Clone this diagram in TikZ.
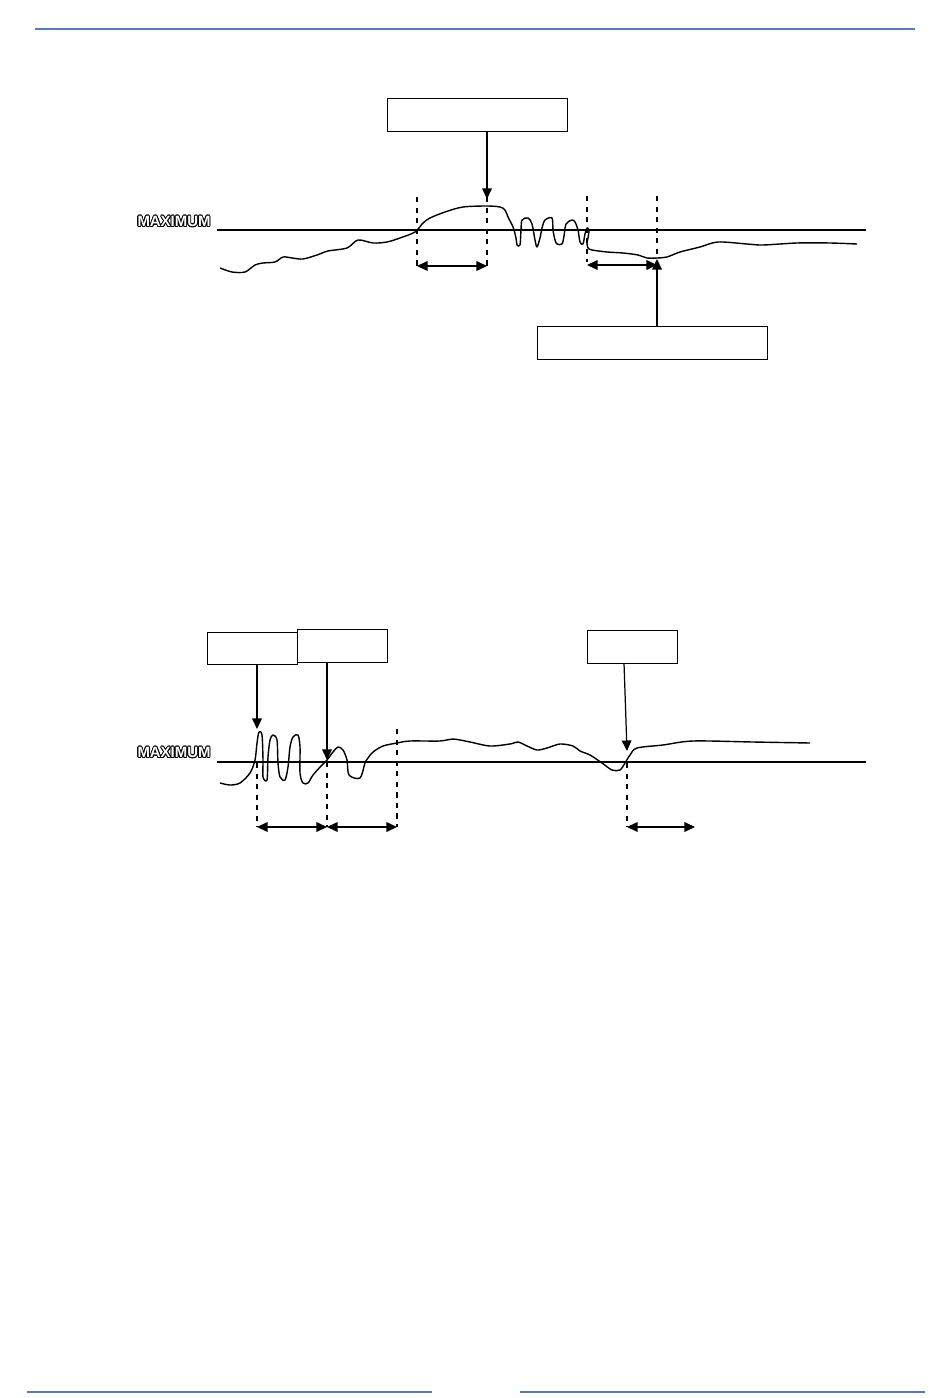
\documentclass[tikz,border=0pt]{standalone}
\usepackage{fontspec}
\usepackage{contour}
\usetikzlibrary{arrows.meta}
\newfontfamily\labelfont{Liberation Sans}
\contourlength{0.5pt}
\definecolor{rulecol}{RGB}{84,125,180}
\newcommand{\maxtext}{{\color{white}\contour{black}{\labelfont\bfseries\fontsize{8.5}{10}\selectfont MAXIMUM}}}

\begin{document}
\begin{tikzpicture}[x=0.02cm,y=-0.02cm]
                \useasboundingbox (0,0) rectangle (950,1398);
                \draw[rulecol,line width=0.8pt] (35,29) -- (915,29);
                \draw[rulecol,line width=0.8pt] (27,1392) -- (432,1392);
                \draw[rulecol,line width=0.8pt] (520,1392) -- (925,1392);

                \node (maxtop) at (174,222) {\maxtext};
                \node (maxbot) at (174,753) {\maxtext};
                \draw[line width=0.6pt] (217,230) -- (866,230);
                \draw[line width=0.6pt] (217,762) -- (866,762);

                \begin{scope}[every node/.style={rectangle,draw,line width=0.5pt,minimum height=0.66cm,inner sep=0pt}]
                    \node[minimum width=3.6cm] (peakbox) at (477,115) {};
                    \node[minimum width=4.6cm] (lowbox) at (652,343) {};
                    \node[minimum width=1.8cm,minimum height=0.64cm] (firstbox) at (252,648) {};
                    \node[minimum width=1.8cm] (secondbox) at (342,646) {};
                    \node[minimum width=1.8cm] (dipbox) at (632,647) {};
                \end{scope}

                \coordinate (p1) at (487,199);
                \coordinate (p2) at (657,259);
                \coordinate (q1) at (257,729);
                \coordinate (q2) at (327,760);
                \coordinate (q3) at (627,751);

                \begin{scope}[line width=0.8pt,line join=round]
                    \draw plot[smooth,tension=0.5] coordinates {(220,268) (232,272) (245,272) (255,265) (263,263) (275,262) (283,257) (292,258) (303,259) (317,255) (328,251) (347,248) (358,240) (373,243) (387,242) (400,238) (415,232) (423,223) (430,218) (445,212) (463,207) (487,206) (500,207) (505,210) (508,217) (513,227) (516,238) (517,245) (520,245) (521,230) (522,220) (528,218) (532,224) (535,240) (537,247) (540,238) (542,228) (545,220) (552,218) (553,230) (555,240) (557,244) (562,244) (564,236) (566,224) (572,220) (575,222) (578,230) (580,242) (583,244) (585,234) (587,228) (589,230) (588,238) (587,243) (588,248) (592,250) (607,252) (623,253) (638,255) (647,258) (657,258) (667,257) (680,252) (700,247) (718,242) (747,244) (763,245) (797,243) (830,243) (857,244)};
                    \draw plot[smooth,tension=0.5] coordinates {(220,783) (230,785) (240,783) (250,773) (255,760) (257,743) (259,732) (262,735) (263,760) (263,777) (267,780) (268,757) (270,740) (273,735) (277,740) (278,763) (280,777) (285,780) (288,767) (290,747) (293,737) (298,735) (300,747) (300,773) (303,783) (308,783) (313,775) (322,765) (327,760) (333,752) (338,747) (343,750) (347,760) (349,775) (360,778) (365,763) (368,758) (373,752) (383,746) (397,743) (410,741) (440,741) (453,739) (470,742) (490,746) (510,744) (518,742) (527,746) (537,750) (547,748) (560,744) (573,746) (580,751) (590,755) (602,763) (612,770) (620,770) (625,763) (630,755) (637,748) (663,745) (693,741) (753,742) (810,743)};
                \end{scope}

                \begin{scope}[dashed,line width=0.65pt]
                    \draw (417,197) -- (417,268);
                    \draw (487,197) -- (487,268);
                    \draw (587,196) -- (587,262);
                    \draw (657,196) -- (657,258);
                    \draw (257,763) -- (257,827);
                    \draw (327,762) -- (327,827);
                    \draw (397,729) -- (397,827);
                    \draw (627,763) -- (627,827);
                \end{scope}

                \begin{scope}[>={Triangle[length=6pt,width=5.5pt]},
                    every edge/.style={draw=black,line width=0.7pt}]
                    \path [->] (peakbox.south -| p1) edge node {} (p1);
                    \path [->] (lowbox.north -| p2) edge node {} (p2);
                    \path [->] (firstbox.south -| q1) edge node {} (q1);
                    \path [->] (secondbox.south -| q2) edge node {} (q2);
                    \path [->] (624,663) edge node {} (q3);

                    \path [<->] (417,266) edge node {} (487,266);
                    \path [<->] (587,265) edge node {} (657,265);
                    \path [<->] (257,827) edge node {} (327,827);
                    \path [<->] (327,827) edge node {} (397,827);
                    \path [<->] (627,827) edge node {} (695,827);
                \end{scope}
            \end{tikzpicture}
\end{document}
